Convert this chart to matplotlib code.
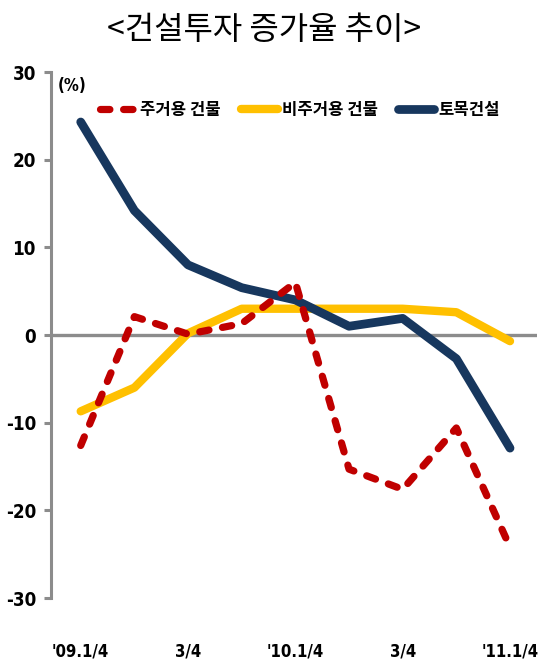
import matplotlib as mpl
import matplotlib.pyplot as plt
from matplotlib import font_manager

# pick a narrow sans for the numbers if one is installed
_fonts = font_manager.fontManager.ttflist
_names = {f.name for f in _fonts}
if "Liberation Sans Narrow" in _names:
    NUM_FAMILY, NUM_STRETCH = "Liberation Sans Narrow", "normal"
elif any(f.name == "DejaVu Sans" and f.stretch == "condensed" for f in _fonts):
    NUM_FAMILY, NUM_STRETCH = "DejaVu Sans", "condensed"
else:
    NUM_FAMILY, NUM_STRETCH = "Liberation Sans", "normal"

mpl.rcParams.update({
    "font.family": [NUM_FAMILY, "Noto Sans CJK KR", "DejaVu Sans"],
    "axes.linewidth": 2.2,
})

QUARTERS = ["'09.1/4", "2/4", "3/4", "4/4", "'10.1/4", "2/4", "3/4", "4/4", "'11.1/4"]
TICK_IDX = [0, 2, 4, 6, 8]

residential = [-12.6, 2.1, 0.1, 1.3, 6.0, -15.3, -17.6, -10.6, -24.2]
non_residential = [-8.7, -6.0, 0.2, 3.0, 3.0, 3.0, 3.0, 2.6, -0.7]
civil = [24.3, 14.2, 8.0, 5.4, 4.0, 1.0, 1.9, -2.7, -12.9]

LABELS = ["주거용 건물", "비주거용 건물", "토목건설"]
COLORS = ["#C00000", "#FFC000", "#17375E"]

KR = ["Noto Sans CJK KR", "DejaVu Sans"]
NUM = [NUM_FAMILY, "Noto Sans CJK KR", "DejaVu Sans"]
num_font = dict(fontfamily=NUM, fontweight="bold", fontstretch=NUM_STRETCH)

fig = plt.figure(figsize=(5.39, 6.67), dpi=100)
ax = fig.add_axes([0.095, 0.1034, 0.901, 0.7886])

x = list(range(len(QUARTERS)))

ax.axhline(0, color="#8C8C8C", lw=2.4, zorder=1)

ax.plot(x, non_residential, color=COLORS[1], lw=6, solid_capstyle="round",
        solid_joinstyle="round", label=LABELS[1], zorder=3)
ax.plot(x, civil, color=COLORS[2], lw=6.3, solid_capstyle="round",
        solid_joinstyle="round", label=LABELS[2], zorder=4)
ax.plot(x, residential, color=COLORS[0], lw=5.2, dashes=(1.3, 1.9),
        dash_capstyle="round", label=LABELS[0], zorder=5)

ax.set_xlim(-0.55, 8.5)
ax.set_ylim(-30, 30)
ax.set_yticks([-30, -20, -10, 0, 10, 20, 30])
ax.set_yticklabels(["-30", "-20", "-10", "0", "10", "20", "30"], fontsize=13.5, **num_font)
ax.set_xticks(TICK_IDX)
ax.set_xticklabels([QUARTERS[i] for i in TICK_IDX], fontsize=12, **num_font)

for side in ["top", "right", "bottom"]:
    ax.spines[side].set_visible(False)
ax.spines["left"].set_color("#8C8C8C")
ax.tick_params(axis="y", direction="out", length=5, width=2.2, color="#8C8C8C", pad=6)
ax.tick_params(axis="x", length=0, pad=32)

ax.text(0.014, 0.99, "(%)", transform=ax.transAxes, ha="left", va="top",
        fontsize=12, **num_font)

handles, labels = ax.get_legend_handles_labels()
order = [2, 0, 1]
ax.legend([handles[i] for i in order], [labels[i] for i in order],
          loc="center", bbox_to_anchor=(0.512, 0.928), ncol=3, frameon=False,
          prop={"family": KR, "weight": "bold", "size": 12},
          handlelength=2.2, handletextpad=0.25, columnspacing=1.2)

fig.text(0.49, 0.955, "<건설투자 증가율 추이>", ha="center", va="center",
         fontfamily=KR, fontsize=23)

fig.savefig("out.png", dpi=100)
